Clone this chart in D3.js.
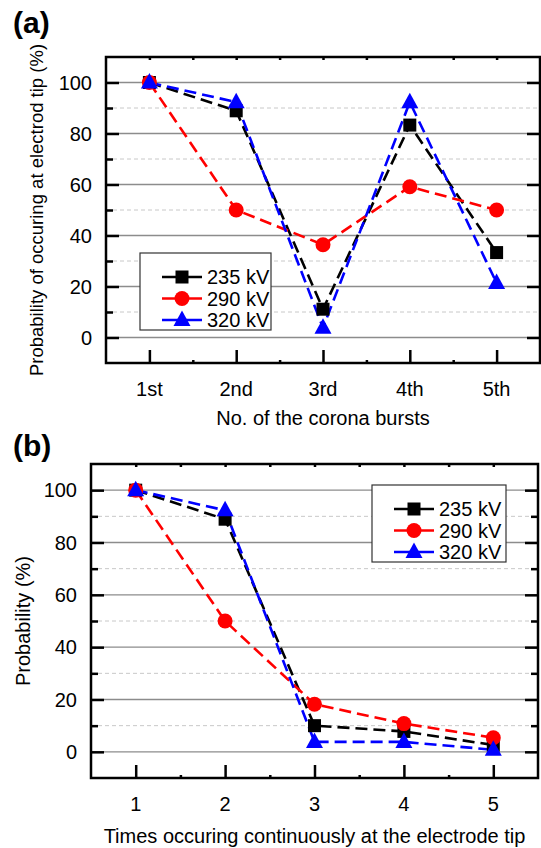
<html>
<head>
<style>
body { margin: 0; background: #fff; }
svg text { font-family: Arial, "Liberation Sans", sans-serif; fill: #000; }
</style>
</head>
<body>
<svg id="chart" width="541" height="848"></svg>
<script src="https://cdn.jsdelivr.net/npm/d3@7"></script>
<script>
// data
const seriesNames = ["235 kV", "290 kV", "320 kV"];
const seriesColors = ["#000000", "#ff0000", "#0000ff"];
const seriesShapes = ["square", "circle", "triangle"];

const burstLabels = ["1st", "2nd", "3rd", "4th", "5th"];
const burst235 = [100, 88.9, 11.1, 83.3, 33.3];
const burst290 = [100, 50, 36.4, 59.1, 50];
const burst320 = [100, 92.3, 3.8, 92.3, 21.4];

const timesLabels = ["1", "2", "3", "4", "5"];
const times235 = [100, 88.9, 10, 7.8, 2.6];
const times290 = [100, 50, 18.2, 10.8, 5.4];
const times320 = [100, 92.3, 3.8, 3.8, 0.8];

const yMajor = [0, 20, 40, 60, 80, 100];
const yMinor = [10, 30, 50, 70, 90];

const svg = d3.select("#chart");
const FS = 20;

function drawPanel(o) {
  const g = svg.append("g");
  const x = d3.scaleLinear().domain([0.5, 5.5]).range([o.left, o.right]);
  const y = d3.scaleLinear().domain([-10, 110]).range([o.bottom, o.top]);

  // grid
  g.selectAll(".gmaj").data(yMajor).join("line")
    .attr("x1", o.left).attr("x2", o.right)
    .attr("y1", d => y(d)).attr("y2", d => y(d))
    .attr("stroke", "#8c8c8c").attr("stroke-width", 1.3);
  g.selectAll(".gmin").data(yMinor).join("line")
    .attr("x1", o.left).attr("x2", o.right)
    .attr("y1", d => y(d)).attr("y2", d => y(d))
    .attr("stroke", "#c8c8c8").attr("stroke-width", 1).attr("stroke-dasharray", "4,3");

  // left axis ticks (inward)
  g.append("g").attr("transform", `translate(${o.left},0)`)
    .call(d3.axisRight(y).tickValues(yMajor).tickSize(13).tickFormat(""));
  g.append("g").attr("transform", `translate(${o.left},0)`)
    .call(d3.axisRight(y).tickValues(yMinor).tickSize(7).tickFormat(""));
  // right axis ticks (inward)
  g.append("g").attr("transform", `translate(${o.right},0)`)
    .call(d3.axisLeft(y).tickValues(yMajor).tickSize(13).tickFormat(""));
  if (o.rightMinor) {
    g.append("g").attr("transform", `translate(${o.right},0)`)
      .call(d3.axisLeft(y).tickValues(yMinor).tickSize(7).tickFormat(""));
  }
  // bottom ticks
  g.append("g").attr("transform", `translate(0,${o.bottom})`)
    .call(d3.axisTop(x).tickValues([1, 2, 3, 4, 5]).tickSize(13).tickFormat(""));
  g.append("g").attr("transform", `translate(0,${o.bottom})`)
    .call(d3.axisTop(x).tickValues([1.5, 2.5, 3.5, 4.5]).tickSize(3).tickFormat(""));
  // top ticks
  g.append("g").attr("transform", `translate(0,${o.top})`)
    .call(d3.axisBottom(x).tickValues([1, 1.5, 2, 2.5, 3, 3.5, 4, 4.5, 5]).tickSize(3).tickFormat(""));
  g.selectAll(".domain").remove();
  g.selectAll(".tick line").attr("stroke", "#000").attr("stroke-width", 2.5);

  // frame
  g.append("rect").attr("x", o.left).attr("y", o.top)
    .attr("width", o.right - o.left).attr("height", o.bottom - o.top)
    .attr("fill", "none").attr("stroke", "#000").attr("stroke-width", 2.5);

  // tick labels
  g.selectAll(".yl").data(yMajor).join("text")
    .attr("x", o.left - 14).attr("y", d => y(d) + 7)
    .attr("text-anchor", "end").attr("font-size", FS).text(d => d);
  g.selectAll(".xl").data(o.labels).join("text")
    .attr("x", (d, i) => x(i + 1)).attr("y", o.bottom + 33)
    .attr("text-anchor", "middle").attr("font-size", FS).text(d => d);

  // titles
  g.append("text").attr("x", (o.left + o.right) / 2).attr("y", o.bottom + o.xTitleDy)
    .attr("text-anchor", "middle").attr("font-size", FS).text(o.xTitle);
  g.append("text")
    .attr("transform", `translate(${o.yTitleX},${(o.top + o.bottom) / 2}) rotate(-90)`)
    .attr("text-anchor", "middle").attr("font-size", o.yTitleFs).text(o.yTitle);
  g.append("text").attr("x", o.tagX).attr("y", o.tagY)
    .attr("font-size", 30).attr("font-weight", "bold").text(o.tag);

  // series
  const line = d3.line().x((d, i) => x(i + 1)).y(d => y(d));
  o.series.forEach((vals, k) => {
    g.append("path").datum(vals).attr("d", line)
      .attr("fill", "none").attr("stroke", seriesColors[k])
      .attr("stroke-width", 2.6).attr("stroke-dasharray", "12,6");
  });
  o.series.forEach((vals, k) => {
    vals.forEach((v, i) => marker(g, seriesShapes[k], x(i + 1), y(v), seriesColors[k]));
  });

  // legend
  const L = o.legend;
  g.append("rect").attr("x", L.x).attr("y", L.y).attr("width", L.w).attr("height", L.h)
    .attr("fill", "#fff").attr("stroke", "#333").attr("stroke-width", 1.2);
  seriesNames.forEach((name, k) => {
    const cy = L.y + 24 + k * 21.5;
    g.append("line").attr("x1", L.x + 22).attr("x2", L.x + 62).attr("y1", cy).attr("y2", cy)
      .attr("stroke", seriesColors[k]).attr("stroke-width", 2.4);
    marker(g, seriesShapes[k], L.x + 42, cy, seriesColors[k]);
    g.append("text").attr("x", L.x + 67).attr("y", cy + 7).attr("font-size", FS).text(name);
  });
}

function marker(g, shape, cx, cy, color) {
  if (shape === "square") {
    g.append("rect").attr("x", cx - 6.5).attr("y", cy - 6.5).attr("width", 13).attr("height", 13).attr("fill", color);
  } else if (shape === "circle") {
    g.append("circle").attr("cx", cx).attr("cy", cy).attr("r", 7.5).attr("fill", color);
  } else {
    g.append("path").attr("d", `M${cx},${cy - 9.5}L${cx + 8.5},${cy + 6}L${cx - 8.5},${cy + 6}Z`).attr("fill", color);
  }
}

drawPanel({
  left: 106, right: 540, top: 57, bottom: 363,
  labels: burstLabels, series: [burst235, burst290, burst320],
  xTitle: "No. of the corona bursts", xTitleDy: 62,
  yTitle: "Probability of occuring at electrod tip (%)", yTitleX: 43, yTitleFs: 18.5,
  tag: "(a)", tagX: 13, tagY: 33,
  legend: { x: 140, y: 253, w: 131, h: 77 }
});

drawPanel({
  left: 91, right: 538, top: 464, bottom: 778,
  labels: timesLabels, series: [times235, times290, times320],
  xTitle: "Times occuring continuously at the electrode tip", xTitleDy: 65,
  yTitle: "Probability (%)", yTitleX: 30, yTitleFs: 20,
  tag: "(b)", tagX: 13, tagY: 456,
  rightMinor: true,
  legend: { x: 372, y: 485, w: 134, h: 77 }
});
</script>
</body>
</html>
